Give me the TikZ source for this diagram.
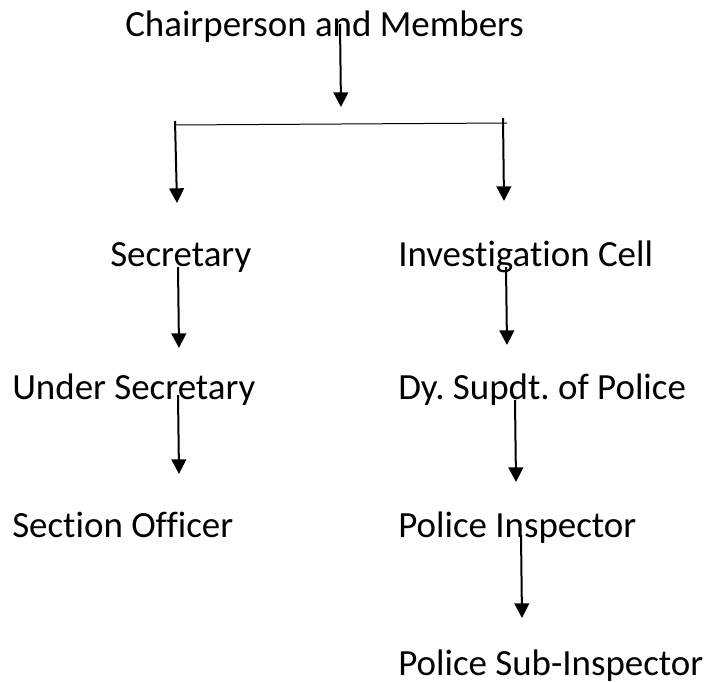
\documentclass[tikz,border=0pt]{standalone}
\usepackage{fontspec}
\setmainfont{Carlito}[Ligatures={NoCommon}]
\frenchspacing
\usetikzlibrary{arrows.meta,calc}

\tikzset{
  post/.style={anchor=base west,inner sep=0pt,font=\fontsize{27.7}{33}\selectfont},
  arr/.style={line width=1.5pt,-{Triangle[width=11pt,length=11pt]}}
}

\begin{document}
\begin{tikzpicture}[x=0.75pt,y=0.75pt,yscale=-1,xscale=1]
\useasboundingbox (0,0) rectangle (707,682);
% posts
\draw (125,36) node [post] (chair) {Chairperson and Members};
\draw (110,266) node [post] (sec) {Secretary};
\draw (398,266) node [post] (inv) {Investigation Cell};
\draw (12,399) node [post] (under) {Under Secretary};
\draw (398,399) node [post] (dy) {Dy. Supdt. of Police};
\draw (12,537) node [post] (section) {Section Officer};
\draw (398,537) node [post] (pi) {Police Inspector};
\draw (398,675) node [post] (psi) {Police Sub-Inspector};
% branch bar
\coordinate (barL) at (175,125);
\coordinate (barR) at (507,123);
\draw [line width=0.75pt] (barL) -- (barR);
\draw [arr] ($(chair.base west)+(215,-12)$) -- ($(barL)!.5!(barR)+(0,-17)$);
\draw [arr] ($(barL)+(0,-4)$) -- ($(sec.base west)+(67,-63)$);
\draw [arr] ($(barR)+(-4,-5)$) -- ($(inv.base west)+(106,-65)$);
% left column
\draw [arr] ($(sec.base west)+(68,1)$) -- ($(under.base west)+(167,-51)$);
\draw [arr] ($(under.base west)+(166,-4)$) -- ($(section.base west)+(167,-63)$);
% right column
\draw [arr] ($(inv.base west)+(108,1)$) -- ($(dy.base west)+(109,-54)$);
\draw [arr] ($(dy.base west)+(117,1)$) -- ($(pi.base west)+(118,-55)$);
\draw [arr] ($(pi.base west)+(123,-2)$) -- ($(psi.base west)+(124,-57)$);
\end{tikzpicture}
\end{document}
